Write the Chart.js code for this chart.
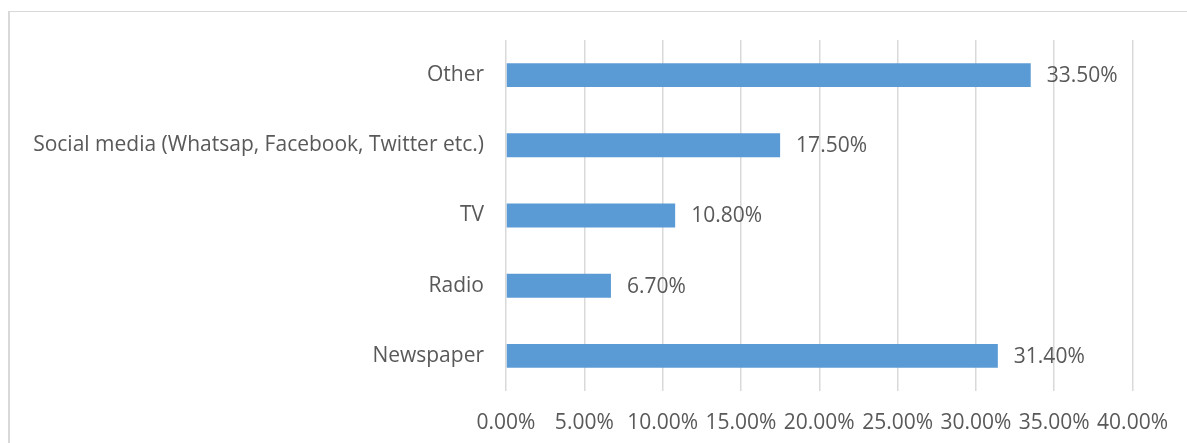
<!DOCTYPE html>
<html>
<head>
<meta charset="utf-8">
<script src="https://cdn.jsdelivr.net/npm/chart.js@4.4.1/dist/chart.umd.min.js"></script>
<style>
  html, body { margin: 0; padding: 0; background: #ffffff; }
  #wrap { position: relative; width: 1187px; height: 443px; overflow: hidden; }
  #frame {
    position: absolute; left: 8px; top: 11px; width: 1300px; height: 600px;
    border-left: 2px solid #d9d9d9; border-top: 1.5px solid #d9d9d9;
    box-sizing: border-box;
  }
  canvas { position: absolute; left: 0; top: 0; }
</style>
</head>
<body>
<div id="wrap">
  <div id="frame"></div>
  <canvas id="chart" width="1187" height="443"></canvas>
</div>
<script>
// Sources of information, share of respondents (%)
const categories = [
  "Other",
  "Social media (Whatsap, Facebook, Twitter etc.)",
  "TV",
  "Radio",
  "Newspaper"
];
const shares = [33.5, 17.5, 10.8, 6.7, 31.4];
const axisMax = 40;
const axisStep = 5;

const FONT = "'Open Sans', 'Noto Sans', sans-serif";
const TEXT = "#595959";
const SIZE = 21;

// Writes each bar's percentage just past its end
const valueLabels = {
  id: "valueLabels",
  afterDatasetsDraw(chart) {
    const ctx = chart.ctx;
    const meta = chart.getDatasetMeta(0);
    ctx.save();
    ctx.font = SIZE + "px " + FONT;
    ctx.fillStyle = TEXT;
    ctx.textAlign = "left";
    ctx.textBaseline = "middle";
    meta.data.forEach((bar, i) => {
      const v = chart.data.datasets[0].data[i];
      ctx.fillText(v.toFixed(2) + "%", bar.x + 16, bar.y + 1);
    });
    ctx.restore();
  }
};

new Chart(document.getElementById("chart"), {
  type: "bar",
  data: {
    labels: categories,
    datasets: [{
      data: shares,
      backgroundColor: "#5b9bd5",
      borderWidth: 0,
      barPercentage: 0.68,
      categoryPercentage: 0.5
    }]
  },
  options: {
    indexAxis: "y",
    responsive: false,
    animation: false,
    devicePixelRatio: 1,
    layout: { padding: { left: 0, top: 40, right: 52, bottom: 0 } },
    plugins: {
      legend: { display: false },
      tooltip: { enabled: false }
    },
    scales: {
      x: {
        min: 0,
        max: axisMax,
        border: { display: false },
        grid: { color: "#d9d9d9", lineWidth: 1.5, drawTicks: false },
        ticks: {
          stepSize: axisStep,
          padding: 19,
          color: TEXT,
          font: { family: FONT, size: SIZE },
          maxRotation: 0,
          autoSkip: false,
          callback: (v) => v.toFixed(2) + "%"
        },
        afterFit(scale) { scale.height = 52; }
      },
      y: {
        border: { display: false },
        grid: { display: false, drawTicks: false },
        ticks: {
          padding: 22,
          color: TEXT,
          font: { family: FONT, size: SIZE }
        },
        afterFit(scale) { scale.width = 506; }
      }
    }
  },
  plugins: [valueLabels]
});
</script>
</body>
</html>
